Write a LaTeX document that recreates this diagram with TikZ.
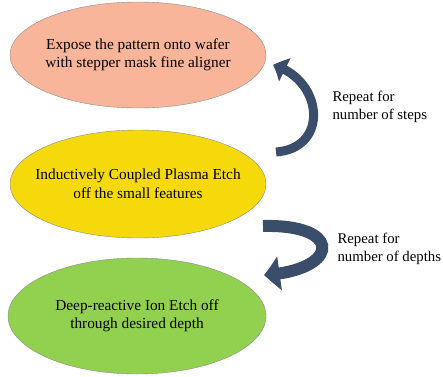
\documentclass[tikz,border=0pt]{standalone}
\usepackage{fontspec}
\setmainfont{Liberation Serif}
\usetikzlibrary{arrows.meta, bending, shapes.geometric}

\definecolor{expfill}{HTML}{F8B59A}
\definecolor{icpfill}{HTML}{F5D90A}
\definecolor{driefill}{HTML}{92D050}
\definecolor{loopcol}{HTML}{3A4D6A}

\begin{document}
\begin{tikzpicture} [x=1pt, y=1pt, align=center,
	stage/.style={ellipse, draw=black!45, thin, inner xsep=-30pt, inner ysep=0pt, font=\fontsize{15.3}{18.5}\selectfont},
	looparrow/.style={loopcol, line cap=butt},
	note/.style={anchor=west, align=left, font=\fontsize{14.8}{18}\selectfont}]
\useasboundingbox (0,0) rectangle (443,376);

\path (138,321) node[stage, fill=expfill, minimum width=256pt, minimum height=106pt] (s1) {Expose the pattern onto wafer\\with stepper mask fine aligner}
	  (138,192) node[stage, fill=icpfill, minimum width=256pt, minimum height=108pt] (s2) {Inductively Coupled Plasma Etch\\off the small features}
	  (137,60) node[stage, fill=driefill, minimum width=258pt, minimum height=116pt] (s3) {Deep-reactive Ion Etch off\\through desired depth};

\path (329,269) node[note] (n1) {Repeat for\\number of steps}
	  (334,127) node[note] (n2) {Repeat for\\number of depths};

\coordinate (r1a) at (276,224);
\coordinate (r1b) at (273,311);
\coordinate (r2a) at (263,150);
\coordinate (r2b) at (264,101);

\draw[looparrow, line width=9pt, -{Triangle[length=13pt, width=25pt, bend]}] (r1a) .. controls +(54,4) and +(50,-14) .. (r1b);
\draw[looparrow, line width=12pt, -{Triangle[length=16pt, width=33pt, bend]}] (r2a) .. controls +(82,2) and +(75,4) .. (r2b);
\end{tikzpicture}
\end{document}
